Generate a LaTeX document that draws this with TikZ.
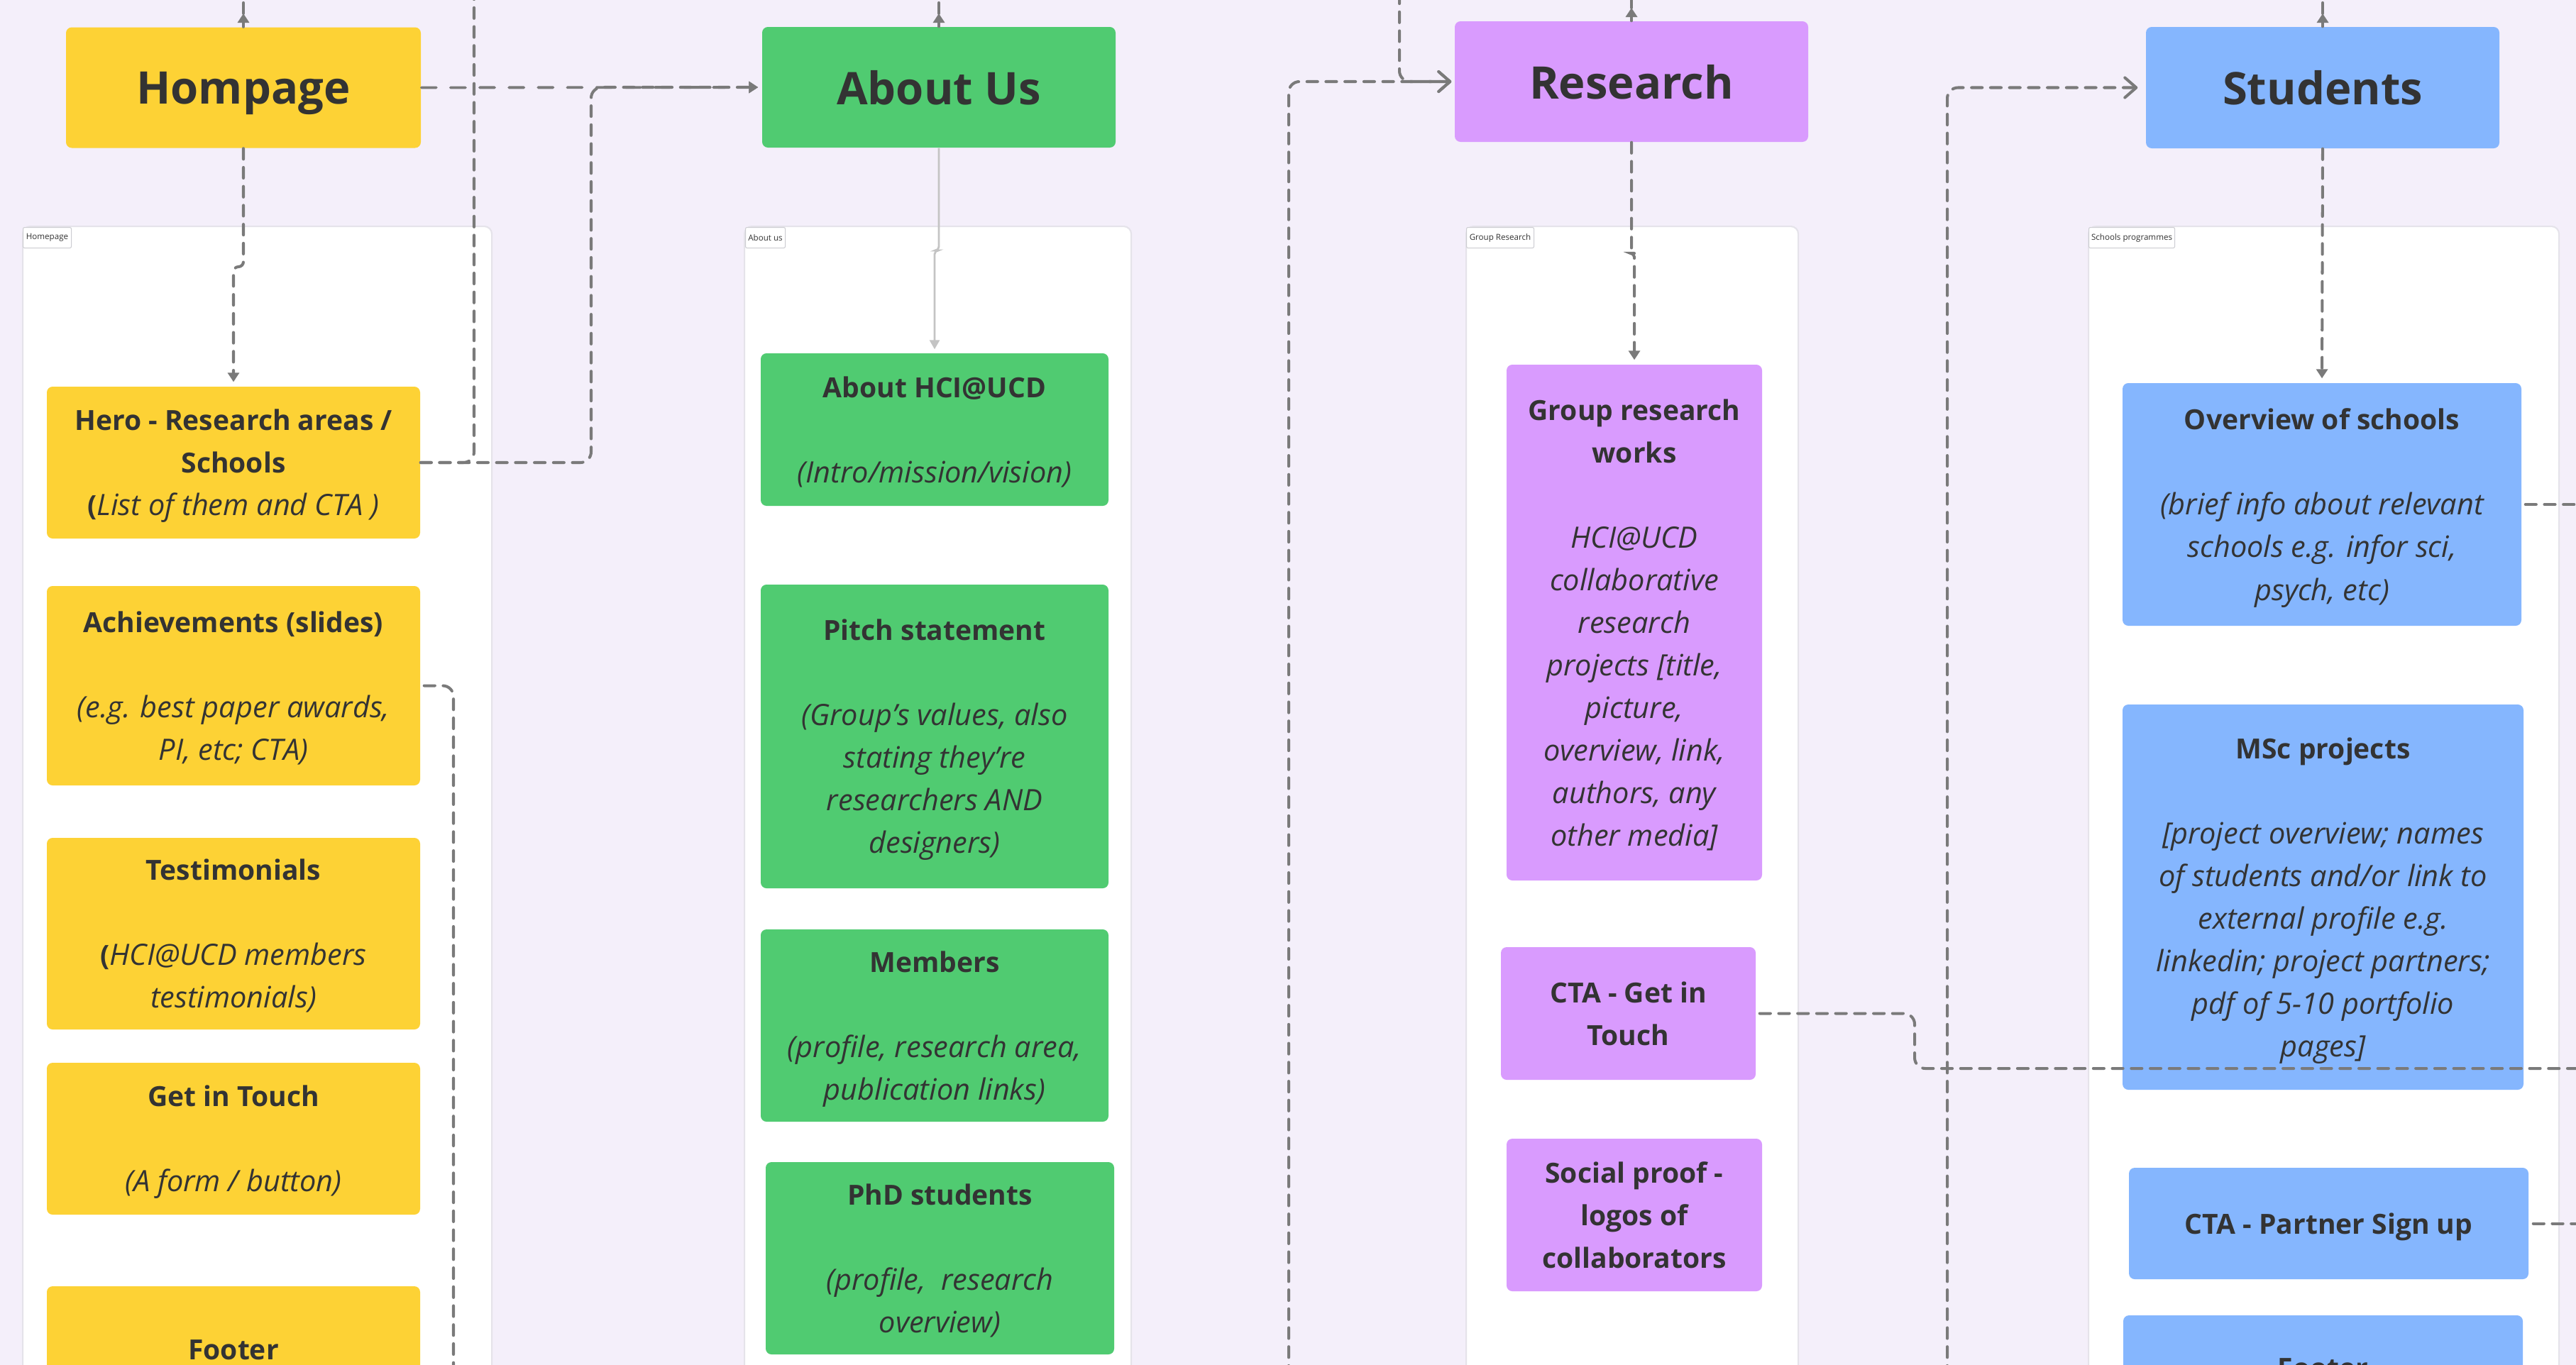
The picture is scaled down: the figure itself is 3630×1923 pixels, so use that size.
\documentclass[tikz,border=0pt]{standalone}
\usepackage{fontspec}
\setmainfont{Open Sans}
\usetikzlibrary{arrows.meta,calc}
\definecolor{bgc}{HTML}{F4EFFA}
\definecolor{yel}{HTML}{FDD235}
\definecolor{grn}{HTML}{50CB71}
\definecolor{pur}{HTML}{D99BFE}
\definecolor{blu}{HTML}{85B6FE}
\definecolor{txt}{HTML}{333333}
\definecolor{cgray}{HTML}{7A7A7A}
\definecolor{lgray}{HTML}{C4C4C4}
\definecolor{pborder}{HTML}{E5E3EA}
\definecolor{lborder}{HTML}{CDCDD2}
\newcommand\bodyfont{\fontsize{11}{17.07}\selectfont}
\newcommand\titlefont{\fontsize{18}{22}\selectfont\bfseries}
\newcommand\bb[1]{{\fontsize{11.1}{17.07}\selectfont\bfseries #1}}
\newcommand\ii[1]{{\fontsize{11.8}{17.07}\selectfont\itshape #1}}
\def\bl{17.07pt}
\tikzset{
  sz/.style 2 args={minimum width=#1*0.01cm, minimum height=#2*0.01cm},
  card/.style={rounded corners=2.3pt, inner sep=0pt, align=center, text=txt, font=\bodyfont, text depth=0pt},
  titlecard/.style={rounded corners=2.3pt, inner sep=0pt, align=center, text=txt, font=\titlefont, text depth=0pt},
  panel/.style={rounded corners=3pt, fill=white, draw=pborder, line width=0.6pt, inner sep=0pt, anchor=north west},
  lab/.style={rounded corners=0.6pt, fill=white, draw=lborder, line width=0.3pt, inner sep=0pt, anchor=north west, font=\fontsize{3.3}{4}\selectfont, text=txt},
  conn/.style={draw=cgray, line width=1.15pt, dash pattern=on 4.3pt off 3.3pt, line cap=round, rounded corners=4.3pt},
  connlong/.style={draw=cgray, line width=1.1pt, dash pattern=on 6pt off 5.7pt, line cap=round},
  solidg/.style={draw=lgray, line width=0.8pt, rounded corners=1.5pt},
  tri/.style={-{Triangle[length=0.13cm, width=0.16cm]}},
  trig/.style={-{Triangle[length=0.13cm, width=0.14cm, color=lgray]}},
  barb/.style={-{Straight Barb[length=0.16cm, width=0.28cm, round]}},
}
\begin{document}
\begin{tikzpicture}[x=0.01cm, y=-0.01cm]
\useasboundingbox (0,0) rectangle (3630,1923);
\clip (0,0) rectangle (3630,1923);
\fill[bgc] (-10,-10) rectangle (3640,1933);

% panels
\node[panel, sz={661}{1700}] (p1) at (31,318) {};
\node[panel, sz={545}{1700}] (p2) at (1048,318) {};
\node[panel, sz={468}{1700}] (p3) at (2065,318) {};
\node[panel, sz={663}{1700}] (p4) at (2942,318) {};
\node[lab, sz={68}{29}] (l1) at (32,320) {Homepage};
\node[lab, sz={56}{29}] (l2) at (1050,320) {About us};
\node[lab, sz={95}{29}] (l3) at (2066,320) {Group Research};
\node[lab, sz={121}{29}] (l4) at (2943,320) {Schools programmes};

% top boxes
\node[titlecard, fill=yel, sz={500}{170}] (hom) at (343,123.5) {Hompage};
\node[titlecard, fill=grn, sz={498}{170}] (about) at (1323,123) {About Us};
\node[titlecard, fill=pur, sz={498}{170}] (research) at (2299,115) {Research};
\node[titlecard, fill=blu, sz={498}{171}] (students) at (3273,123.5) {Students};

% column 1
\node[card, fill=yel, sz={526}{214}] (hero) at (329,652) {\bb{Hero - Research areas /}\\ \bb{Schools}\\ \bb{(}\ii{List of them and CTA )}};
\node[card, fill=yel, sz={526}{281}] (ach) at (329,966.5) {\bb{Achievements (slides)}\\[\bl] \ii{(e.g. best paper awards,}\\ \ii{PI, etc; CTA)}};
\node[card, fill=yel, sz={526}{270}] (test) at (329,1316) {\bb{Testimonials}\\[\bl] \bb{(}\ii{HCI@UCD members}\\ \ii{testimonials)}};
\node[card, fill=yel, sz={526}{214}] (git) at (329,1605) {\bb{Get in Touch}\\[\bl] \ii{(A form / button)}};
\node[card, fill=yel, sz={526}{180}] (foot1) at (329,1903) {\bb{Footer}};

% column 2
\node[card, fill=grn, sz={490}{215}] (ahci) at (1317,605.5) {\bb{About HCI@UCD}\\[\bl] \ii{(Intro/mission/vision)}};
\node[card, fill=grn, sz={490}{428}] (pitch) at (1317,1038) {\bb{Pitch statement}\\[\bl] \ii{(Group’s values, also}\\ \ii{stating they’re}\\ \ii{researchers AND}\\ \ii{designers)}};
\node[card, fill=grn, sz={490}{271}] (members) at (1317,1445.5) {\bb{Members}\\[\bl] \ii{(profile, research area,}\\ \ii{publication links)}};
\node[card, fill=grn, sz={491}{271}] (phd) at (1324.5,1773.5) {\bb{PhD students}\\[\bl] \ii{(profile,\ \ research}\\ \ii{overview)}};

% column 3
\node[card, fill=pur, sz={360}{727}] (grw) at (2303,877.5) {\bb{Group research}\\ \bb{works}\\[\bl] \ii{HCI@UCD}\\ \ii{collaborative}\\ \ii{research}\\ \ii{projects [title,}\\ \ii{picture,}\\ \ii{overview, link,}\\ \ii{authors, any}\\ \ii{other media]}};
\node[card, fill=pur, sz={359}{187}] (ctag) at (2294.5,1428.5) {\bb{CTA - Get in}\\ \bb{Touch}};
\node[card, fill=pur, sz={360}{215}] (social) at (2303,1712.5) {\bb{Social proof -}\\ \bb{logos of}\\ \bb{collaborators}};

% column 4
\node[card, fill=blu, sz={562}{342}] (overview) at (3272,711) {\bb{Overview of schools}\\[\bl] \ii{(brief info about relevant}\\ \ii{schools e.g. infor sci,}\\ \ii{psych, etc)}};
\node[card, fill=blu, sz={565}{543}] (msc) at (3273.5,1264.5) {\bb{MSc projects}\\[\bl] \ii{[project overview; names}\\ \ii{of students and/or link to}\\ \ii{external profile e.g.}\\ \ii{linkedin; project partners;}\\ \ii{pdf of 5-10 portfolio}\\ \ii{pages]}};
\node[card, fill=blu, sz={563}{157}] (ctap) at (3281.5,1724.5) {\bb{CTA - Partner Sign up}};
\node[card, fill=blu, sz={563}{150}] (foot4) at (3273.5,1929) {\bb{Footer}};

% free ends
\coordinate (t1) at (343,-10);
\coordinate (t2) at (1323,-10);
\coordinate (t3r) at (2299,-10);
\coordinate (t4) at (3273,-10);
\coordinate (a1) at (343,19);
\coordinate (a2) at (1323,19);
\coordinate (a3) at (2299,11);
\coordinate (a4) at (3273,19);
\coordinate (up1) at (668,-10);
\coordinate (dn1) at (639,1940);
\coordinate (t3) at (1972,-10);
\coordinate (b3) at (1816,1940);
\coordinate (b4) at (2744,1940);
\coordinate (r1) at (3640,711);
\coordinate (r2) at (3640,1506);
\coordinate (r3) at (3640,1724.5);

% upward arrows above top boxes
\draw[conn, tri] (hom.north) -- (a1);
\draw[conn] (a1) -- (t1);
\draw[conn, tri] (about.north) -- (a2);
\draw[conn] (a2) -- (t2);
\draw[conn, tri] (research.north) -- (a3);
\draw[conn] (a3) -- (t3r);
\draw[conn, tri] (students.north) -- (a4);
\draw[conn] (a4) -- (t4);

% column 1 connectors
\draw[connlong, tri, shorten >=0.05cm] (hom.east) -- (about.west);
\draw[conn, rounded corners=2pt, tri, shorten >=0.06cm] (hom.south) -- (343,376) -- (329,376) -- (hero.north);
\draw[conn] (hero.east) -- (668,652) -- (up1);
\draw[conn, tri, shorten >=0.05cm] (hero.east) -- (833,652) -- (833,123) -- (about.west);
\draw[conn, shorten <=0.05cm] (ach.east) -- (639,966.5) -- (dn1);

% column 2 connector
\draw[solidg, trig, shorten >=0.05cm] (about.south) -- (1323,353) -- (1317,353) -- (ahci.north);

% column 3 connectors
\draw[conn, rounded corners=1.5pt, tri, shorten >=0.06cm] (research.south) -- (2299,357) -- (2303,357) -- (grw.north);
\draw[conn, barb, shorten >=0.04cm] (t3) -- (1972,115) -- (research.west);
\draw[conn, barb, shorten >=0.04cm] (b3) -- (1816,115) -- (research.west);
\draw[conn, shorten <=0.05cm] (ctag.east) -- (2698,1428.5) -- (2698,1506) -- (r2);

% column 4 connectors
\draw[conn, barb, shorten >=0.11cm] (b4) -- (2744,123.5) -- (students.west);
\draw[conn, tri, shorten >=0.06cm] (students.south) -- (overview.north);
\draw[conn, shorten <=0.05cm] (overview.east) -- (r1);
\draw[conn, shorten <=0.06cm] (ctap.east) -- (r3);
\end{tikzpicture}
\end{document}
